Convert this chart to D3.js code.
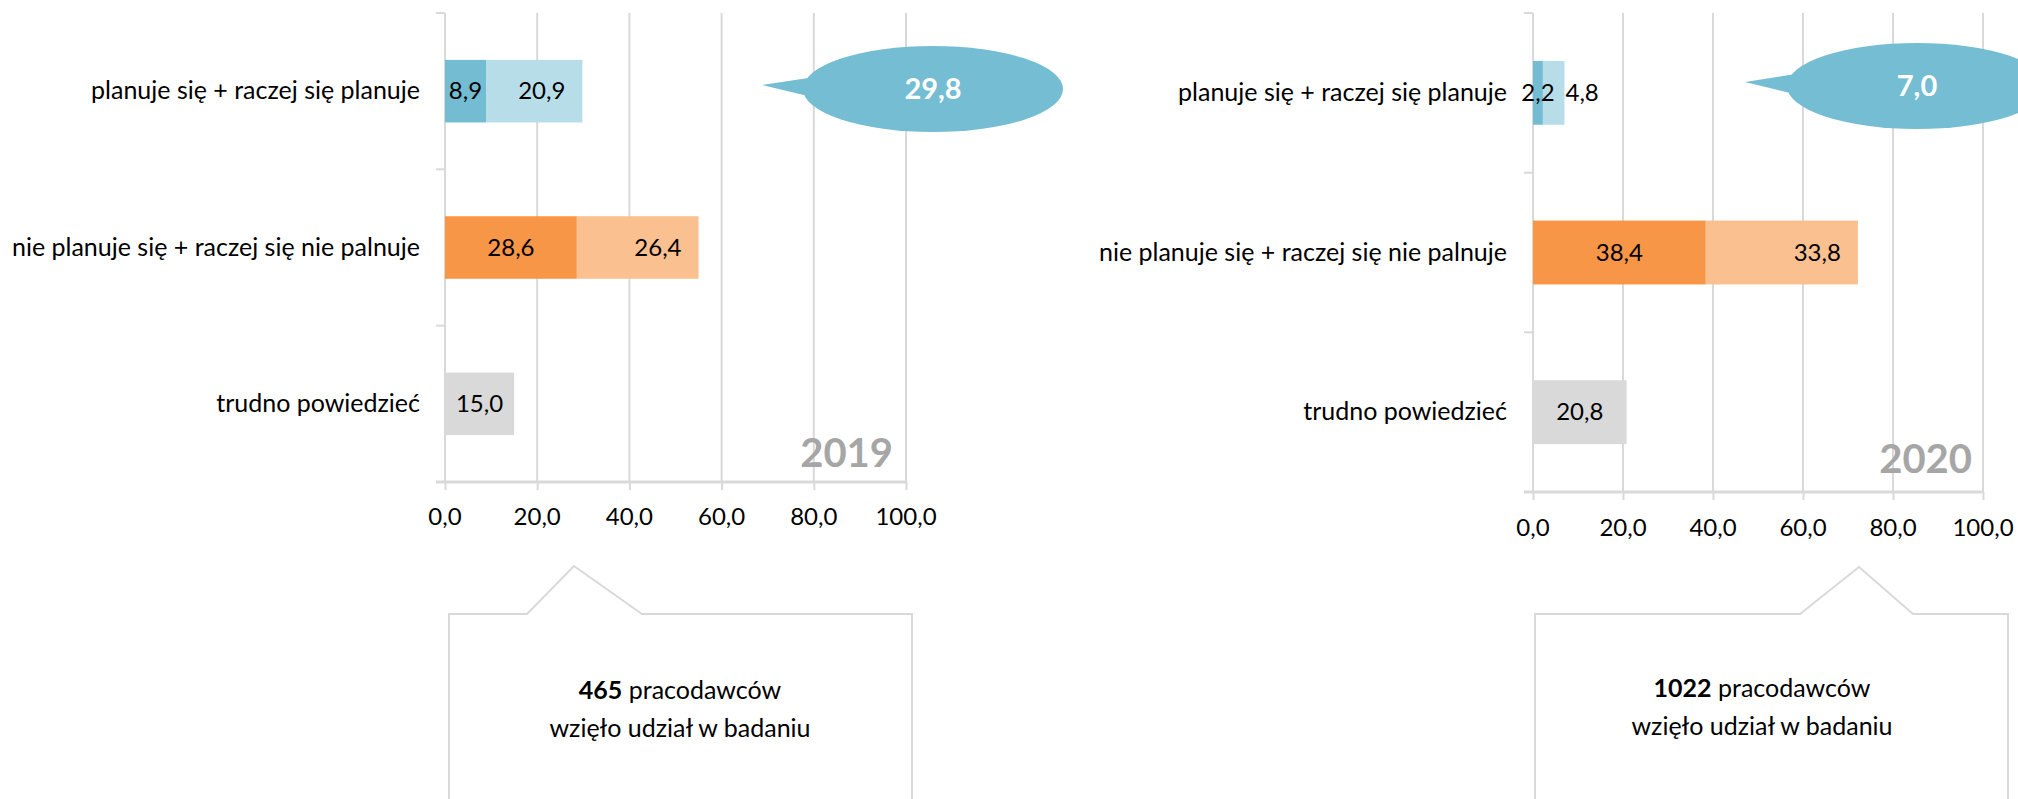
<!DOCTYPE html>
<html>
<head>
<meta charset="utf-8">
<script src="https://cdn.jsdelivr.net/npm/d3@7"></script>
<style>
  html, body { margin: 0; padding: 0; background: #fff; }
  svg { display: block; }
  text { font-family: Lato, "Open Sans", sans-serif; }
</style>
</head>
<body>
<svg id="chart" width="2018" height="799"></svg>
<script>
// ---------------- data ----------------
const categories = [
  "planuje się + raczej się planuje",
  "nie planuje się + raczej się nie palnuje",
  "trudno powiedzieć"
];
const values2019Main   = [8.9, 28.6, 15.0];
const values2019Second = [20.9, 26.4, 0];
const values2020Main   = [2.2, 38.4, 20.8];
const values2020Second = [4.8, 33.8, 0];
const xTickValues = [0, 20, 40, 60, 80, 100];
const years = ["2019", "2020"];
const respondents = [465, 1022];

// ---------------- styles ----------------
const mainColors   = ["#74BCD1", "#F79646", "#D9D9D9"];
const secondColors = ["#B7DEE8", "#FAC090", "#D9D9D9"];
const bubbleColor = "#74BDD2";
const gridColor = "#D9D9D9";

const fmt = v => d3.format(".1f")(v).replace(".", ",");

const svg = d3.select("#chart");

// panel layouts
const panels = [
  { year: years[0], n: respondents[0], main: values2019Main, second: values2019Second,
    xr: [445, 906], yr: [13, 482], labelGap: 25, tickLabelDy: 43,
    yearPos: [893, 467],
    bubble: { cx: 933, cy: 89, rx: 130, ry: 43, tip: [762, 85], b1: [815, 77], b2: [812, 97] },
    box: { x0: 449, x1: 912, top: 614, p1: 527, peak: [574, 566], p2: 642, tx: 680, ty: [699, 737] } },
  { year: years[1], n: respondents[1], main: values2020Main, second: values2020Second,
    xr: [1533, 1983], yr: [13, 492], labelGap: 26, tickLabelDy: 44,
    yearPos: [1972, 473],
    bubble: { cx: 1917, cy: 86, rx: 130, ry: 43, tip: [1745, 82], b1: [1796, 74], b2: [1794, 94] },
    box: { x0: 1535, x1: 2008, top: 614, p1: 1800, peak: [1859, 567], p2: 1913, tx: 1762, ty: [697, 735] } }
];

panels.forEach(p => {
  const g = svg.append("g");
  const x = d3.scaleLinear().domain([0, 100]).range(p.xr);
  const y = d3.scaleBand().domain(categories).range(p.yr).paddingInner(0.6).paddingOuter(0.3);
  const yTop = p.yr[0], yBot = p.yr[1];

  // vertical gridlines
  g.selectAll("line.grid").data(xTickValues.slice(1)).enter().append("line")
    .attr("x1", d => x(d)).attr("x2", d => x(d))
    .attr("y1", yTop).attr("y2", yBot)
    .attr("stroke", gridColor).attr("stroke-width", 2);

  // bottom axis with ticks pointing down
  const xAxis = d3.axisBottom(x).tickValues(xTickValues).tickSize(8).tickFormat("");
  const ax = g.append("g").attr("transform", `translate(0,${yBot})`).call(xAxis);
  ax.select(".domain").remove();
  ax.selectAll(".tick line").attr("stroke", gridColor).attr("stroke-width", 2);
  g.append("line").attr("x1", x(0) - 9).attr("x2", x(100))
    .attr("y1", yBot).attr("y2", yBot)
    .attr("stroke", gridColor).attr("stroke-width", 3);

  // tick labels
  g.selectAll("text.tick").data(xTickValues).enter().append("text")
    .attr("x", d => x(d)).attr("y", yBot + p.tickLabelDy)
    .attr("text-anchor", "middle").attr("font-size", 24).attr("fill", "#000")
    .text(d => fmt(d));

  // vertical category axis line + ticks at band boundaries
  g.append("line").attr("x1", x(0)).attr("x2", x(0)).attr("y1", yTop).attr("y2", yBot)
    .attr("stroke", gridColor).attr("stroke-width", 2);
  const step = y.step();
  const bounds = d3.range(categories.length + 1).map(i => yTop + i * step);
  g.selectAll("line.ctick").data(bounds).enter().append("line")
    .attr("x1", x(0) - 9).attr("x2", x(0)).attr("y1", d => d).attr("y2", d => d)
    .attr("stroke", gridColor).attr("stroke-width", 2);

  // category labels
  g.selectAll("text.cat").data(categories).enter().append("text")
    .attr("x", x(0) - p.labelGap)
    .attr("y", d => y(d) + y.bandwidth() / 2 + 8)
    .attr("text-anchor", "end").attr("font-size", 25).attr("fill", "#000")
    .text(d => d);

  // bars: main segment
  const rows = categories.map((c, i) => ({ c, i, a: p.main[i], b: p.second[i] }));
  g.selectAll("rect.main").data(rows).enter().append("rect")
    .attr("x", x(0)).attr("y", d => y(d.c))
    .attr("width", d => x(d.a) - x(0)).attr("height", y.bandwidth())
    .attr("fill", d => mainColors[d.i]);
  g.selectAll("rect.second").data(rows.filter(d => d.b > 0)).enter().append("rect")
    .attr("x", d => x(d.a)).attr("y", d => y(d.c))
    .attr("width", d => x(d.a + d.b) - x(d.a)).attr("height", y.bandwidth())
    .attr("fill", d => secondColors[d.i]);

  // data labels
  g.selectAll("text.lmain").data(rows).enter().append("text")
    .attr("x", d => (x(0) + x(d.a)) / 2)
    .attr("y", d => y(d.c) + y.bandwidth() / 2 + 8)
    .attr("text-anchor", "middle").attr("font-size", 24).attr("fill", "#000")
    .text(d => fmt(d.a));
  g.selectAll("text.lsec").data(rows.filter(d => d.b > 0)).enter().append("text")
    .attr("x", d => {
      const w = x(d.a + d.b) - x(d.a);
      return w > 60 ? x(d.a + d.b) - 17 : x(d.a + d.b) + 1;
    })
    .attr("y", d => y(d.c) + y.bandwidth() / 2 + 8)
    .attr("text-anchor", d => (x(d.a + d.b) - x(d.a)) > 60 ? "end" : "start")
    .attr("font-size", 24).attr("fill", "#000")
    .text(d => fmt(d.b));

  // year label
  g.append("text").attr("x", p.yearPos[0]).attr("y", p.yearPos[1])
    .attr("text-anchor", "end").attr("font-size", 40).attr("font-weight", "bold")
    .attr("fill", "#A6A6A6").text(p.year);

  // bubble with total
  const bb = p.bubble;
  const bg = svg.append("g");
  bg.append("path")
    .attr("d", `M${bb.tip[0]},${bb.tip[1]} L${bb.b1[0]},${bb.b1[1]} L${bb.b2[0]},${bb.b2[1]} Z`)
    .attr("fill", bubbleColor);
  bg.append("ellipse").attr("cx", bb.cx).attr("cy", bb.cy).attr("rx", bb.rx).attr("ry", bb.ry)
    .attr("fill", bubbleColor);
  bg.append("text").attr("x", bb.cx).attr("y", bb.cy + 10)
    .attr("text-anchor", "middle").attr("font-size", 29).attr("font-weight", "bold")
    .attr("fill", "#fff").text(fmt(p.main[0] + p.second[0]));

  // callout box
  const bx = p.box;
  svg.append("path")
    .attr("d", `M${bx.x0},810 L${bx.x0},${bx.top} L${bx.p1},${bx.top} L${bx.peak[0]},${bx.peak[1]} L${bx.p2},${bx.top} L${bx.x1},${bx.top} L${bx.x1},810`)
    .attr("fill", "#fff").attr("stroke", gridColor).attr("stroke-width", 2);
  const t1 = svg.append("text").attr("x", bx.tx).attr("y", bx.ty[0])
    .attr("text-anchor", "middle").attr("font-size", 25).attr("fill", "#000");
  t1.append("tspan").attr("font-weight", "bold").text(p.n);
  t1.append("tspan").text(" pracodawców");
  svg.append("text").attr("x", bx.tx).attr("y", bx.ty[1])
    .attr("text-anchor", "middle").attr("font-size", 25).attr("fill", "#000")
    .text("wzięło udział w badaniu");
});
</script>
</body>
</html>
